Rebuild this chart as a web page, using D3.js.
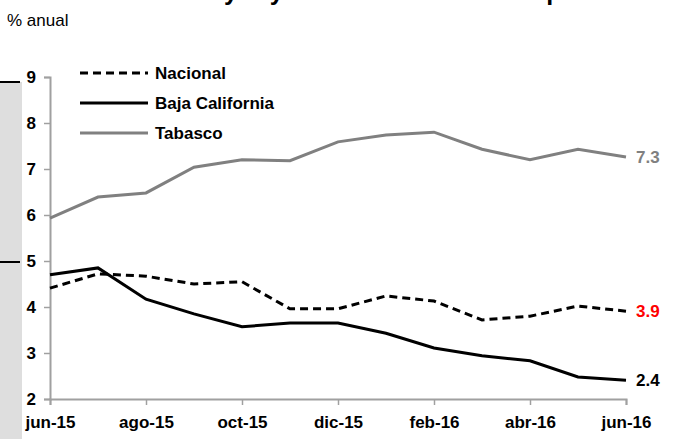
<!DOCTYPE html>
<html>
<head>
<meta charset="utf-8">
<script src="https://cdn.jsdelivr.net/npm/d3@7"></script>
<style>
  body { margin: 0; background: #fff; }
  svg { display: block; font-family: "Liberation Sans", Arial, sans-serif; }
</style>
</head>
<body>
<div id="chart"></div>
<script>
const months = ['jun-15', 'jul-15', 'ago-15', 'sep-15', 'oct-15', 'nov-15', 'dic-15',
  'ene-16', 'feb-16', 'mar-16', 'abr-16', 'may-16', 'jun-16'];
const tickLabels = ['jun-15', 'ago-15', 'oct-15', 'dic-15', 'feb-16', 'abr-16', 'jun-16'];
const yTicks = [2, 3, 4, 5, 6, 7, 8, 9];

const nacional = [4.41, 4.72, 4.67, 4.5, 4.55, 3.96, 3.96, 4.24, 4.13, 3.72, 3.8, 4.02, 3.91];
const bajaCalifornia = [4.7, 4.85, 4.17, 3.85, 3.57, 3.65, 3.65, 3.43, 3.11, 2.94, 2.83, 2.48, 2.41];
const tabasco = [5.93, 6.39, 6.48, 7.04, 7.2, 7.18, 7.59, 7.74, 7.8, 7.43, 7.2, 7.43, 7.26];

const series = [
  { name: 'Nacional', values: nacional, color: '#000', dash: '8,5', label: '3.9', labelColor: '#ff0000' },
  { name: 'Baja California', values: bajaCalifornia, color: '#000', dash: null, label: '2.4', labelColor: '#000' },
  { name: 'Tabasco', values: tabasco, color: '#808080', dash: null, label: '7.3', labelColor: '#808080' }
];

const width = 674;
const height = 439;

const svg = d3.select('#chart')
  .append('svg')
  .attr('width', width)
  .attr('height', height);

// title, cut off at the top edge as in the original
svg.append('text')
  .attr('x', 10)
  .attr('y', -0.5)
  .attr('font-size', '25px')
  .attr('font-weight', 'bold')
  .attr('fill', '#000')
  .text('Entidades con mayor y menor tasa de desempleo');

svg.append('text')
  .attr('x', 7)
  .attr('y', 26)
  .attr('font-size', '17px')
  .attr('fill', '#000')
  .text('% anual');

// gray side panel
svg.append('rect')
  .attr('x', 0).attr('y', 82)
  .attr('width', 22).attr('height', height - 82)
  .attr('fill', '#dedede');
[82, 262].forEach(yy => {
  svg.append('line')
    .attr('x1', 0).attr('x2', 20)
    .attr('y1', yy).attr('y2', yy)
    .attr('stroke', '#000')
    .attr('stroke-width', 2);
});

const x = d3.scalePoint()
  .domain(months)
  .range([50, 626]);

const y = d3.scaleLinear()
  .domain([2, 9])
  .range([399, 77]);

const axisColor = '#a0a0a0';

// y axis
const yAxis = svg.append('g')
  .attr('transform', 'translate(50,0)')
  .call(d3.axisLeft(y).tickValues(yTicks).tickFormat(d3.format('d')).tickSize(6).tickPadding(8));
yAxis.select('.domain').attr('stroke', axisColor).attr('stroke-width', 2);
yAxis.selectAll('.tick line').attr('stroke', axisColor).attr('stroke-width', 1.5);
yAxis.selectAll('.tick text')
  .attr('font-size', '17px')
  .attr('font-weight', 'bold')
  .attr('font-family', '"Liberation Sans", Arial, sans-serif')
  .attr('fill', '#000');

// x axis
const xAxis = svg.append('g')
  .attr('transform', 'translate(0,399)')
  .call(d3.axisBottom(x).tickValues(tickLabels).tickSize(6).tickPadding(11));
xAxis.select('.domain').attr('stroke', axisColor).attr('stroke-width', 2);
xAxis.selectAll('.tick line').attr('stroke', axisColor).attr('stroke-width', 1.5);
xAxis.selectAll('.tick text')
  .attr('font-size', '17px')
  .attr('font-weight', 'bold')
  .attr('font-family', '"Liberation Sans", Arial, sans-serif')
  .attr('fill', '#000');

const line = d3.line()
  .x((d, i) => x(months[i]))
  .y(d => y(d));

// draw gray first so black lines sit on top
[series[2], series[1], series[0]].forEach(s => {
  svg.append('path')
    .datum(s.values)
    .attr('fill', 'none')
    .attr('stroke', s.color)
    .attr('stroke-width', 3)
    .attr('stroke-dasharray', s.dash)
    .attr('d', line);
});

// end labels
series.forEach(s => {
  const last = s.values[s.values.length - 1];
  svg.append('text')
    .attr('x', x(months[months.length - 1]) + 10)
    .attr('y', y(last))
    .attr('dy', '0.36em')
    .attr('font-size', '17px')
    .attr('font-weight', 'bold')
    .attr('fill', s.labelColor)
    .text(s.label);
});

// legend
const legend = svg.append('g')
  .attr('transform', 'translate(80,73)');

series.forEach((s, i) => {
  legend.append('line')
    .attr('x1', 0).attr('x2', 68)
    .attr('y1', i * 30).attr('y2', i * 30)
    .attr('stroke', s.color)
    .attr('stroke-width', 3)
    .attr('stroke-dasharray', s.dash);
  legend.append('text')
    .attr('x', 75)
    .attr('y', i * 30)
    .attr('dy', '0.36em')
    .attr('font-size', '17px')
    .attr('font-weight', 'bold')
    .attr('fill', '#000')
    .text(s.name);
});
</script>
</body>
</html>
